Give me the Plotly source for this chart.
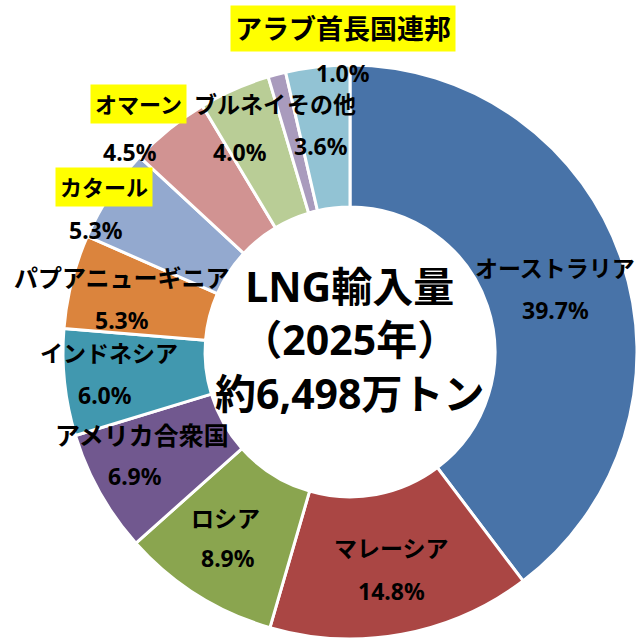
import plotly.graph_objects as go

countries = ["オーストラリア", "マレーシア", "ロシア", "アメリカ合衆国", "インドネシア",
             "パプアニューギニア", "カタール", "オマーン", "ブルネイ", "アラブ首長国連邦", "その他"]
shares = [39.7, 14.8, 8.9, 6.9, 6.0, 5.3, 5.3, 4.5, 4.0, 1.0, 3.6]
colors = ["#4873A8", "#AA4644", "#8AA54F", "#71588F", "#4198AF", "#DB843D",
          "#93A9CF", "#D19392", "#B9CD96", "#A99BBD", "#92C3D4"]
highlighted = ["カタール", "オマーン", "アラブ首長国連邦"]
center_lines = ["LNG輸入量", "（2025年）", "約6,498万トン"]

W, H = 637, 639
FONT = "Noto Sans, Noto Sans CJK JP"

fig = go.Figure(go.Pie(
    labels=countries, values=shares, sort=False, direction="clockwise",
    rotation=0, hole=0.505, textinfo="none", hoverinfo="label+percent",
    marker=dict(colors=colors, line=dict(color="white", width=3)),
    domain=dict(x=[63 / W, 1.0], y=[0.0, 574 / H]),
    showlegend=False,
))

# label centres (pixels): name position, percent position
name_pos = {
    "オーストラリア": (555, 268), "マレーシア": (391, 548), "ロシア": (225, 518),
    "アメリカ合衆国": (142, 435), "インドネシア": (109, 353), "パプアニューギニア": (122, 277),
    "カタール": (104, 187), "オマーン": (138, 104), "ブルネイ": (240, 104),
    "アラブ首長国連邦": (343, 29), "その他": (321, 104),
}
pct_pos = {
    "オーストラリア": (555, 310), "マレーシア": (391, 591), "ロシア": (228, 558),
    "アメリカ合衆国": (135, 476), "インドネシア": (105, 395), "パプアニューギニア": (122, 320),
    "カタール": (96, 230), "オマーン": (130, 152), "ブルネイ": (240, 152),
    "アラブ首長国連邦": (343, 73), "その他": (321, 146),
}
name_size = {"アラブ首長国連邦": 27, "オマーン": 22, "カタール": 22,
             "アメリカ合衆国": 25, "パプアニューギニア": 24}

def px(x, y):
    return x / W, 1 - y / H

anns = []
for c, v in zip(countries, shares):
    x, y = px(*name_pos[c])
    anns.append(dict(
        x=x, y=y, xref="paper", yref="paper", text=c, showarrow=False,
        xanchor="center", yanchor="middle",
        font=dict(family=FONT, size=name_size.get(c, 23), color="black", weight="bold"),
        bgcolor="#FFFF00" if c in highlighted else "rgba(0,0,0,0)",
        borderpad=4,
    ))
    x, y = px(*pct_pos[c])
    anns.append(dict(
        x=x, y=y, xref="paper", yref="paper", text=f"{v:.1f}%", showarrow=False,
        xanchor="center", yanchor="middle",
        font=dict(family=FONT, size=23, color="black", weight="bold"),
    ))

x, y = px(350, 339)
anns.append(dict(
    x=x, y=y, xref="paper", yref="paper", text="<br>".join(center_lines),
    showarrow=False, xanchor="center", yanchor="middle", align="center",
    font=dict(family=FONT, size=41, color="black", weight="bold"),
))

fig.update_layout(
    width=W, height=H, margin=dict(l=0, r=0, t=0, b=0),
    paper_bgcolor="white", plot_bgcolor="white", annotations=anns,
)
fig.write_html("out.html", config={"displayModeBar": False},
               post_script="document.body.style.margin='0';document.body.style.overflow='hidden';")
